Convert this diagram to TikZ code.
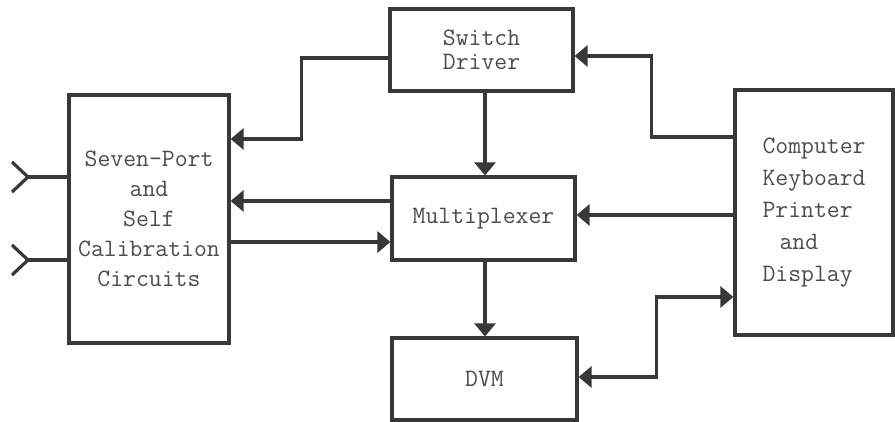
\documentclass[tikz,border=0pt]{standalone}
\usepackage{fontspec}
\usetikzlibrary{arrows.meta}

\definecolor{ink}{HTML}{383838}

\tikzset{
  block/.style={draw=ink, line width=1.6pt, inner sep=0pt, align=center,
    text=ink!90, font=\ttfamily\fontsize{12.5}{15}\selectfont},
  wire/.style={draw=ink, line width=1.6pt},
  link/.style={wire, -{Triangle[length=6.5pt,width=10.5pt]}},
}

\begin{document}
\begin{tikzpicture}[x=0.5pt, y=-0.5pt]
    \useasboundingbox[fill=white] (0,0) rectangle (895,422);

    % Blocks
    \node[block, minimum width=80pt, minimum height=124pt] (seven) at (149,219)
        {Seven-Port\\and\\Self\\Calibration\\Circuits};
    \node[block, minimum width=91.5pt, minimum height=41pt,
        font=\ttfamily\fontsize{12.5}{12}\selectfont] (switch) at (481.5,50) {Switch\\Driver};
    \node[block, minimum width=91.5pt, minimum height=41.5pt] (mux) at (483.5,218.5) {Multiplexer};
    \node[block, minimum width=92.5pt, minimum height=41pt] (dvm) at (484.5,379) {DVM};
    \node[block, minimum width=79pt, minimum height=122.5pt, align=left,
        font=\ttfamily\fontsize{12.5}{16}\selectfont] (comp) at (814,212.5)
        {Computer\\Keyboard\\Printer\\\ \,and\\Display};

    % Input ports
    \foreach \y in {177,260} {
        \draw[wire] (seven.west |- 0,\y) -- (28,\y);
        \draw[wire] (12,{\y-15}) -- (28,\y) -- (12,{\y+15});
    }

    % Switch driver paths
    \draw[link] (switch.west |- 0,58) -- ++(-87,0) |- (seven.east |- 0,139);
    \draw[link] (comp.west |- 0,137) -- ++(-82,0) |- (switch.east |- 0,56);
    \draw[link] (switch.south -| 485,0) -- (mux.north -| 485,0);

    % Multiplexer paths
    \draw[link] (mux.west |- 0,201) -- (seven.east |- 0,201);
    \draw[link] (seven.east |- 0,242) -- (mux.west |- 0,242);
    \draw[link] (comp.west |- 0,215) -- (mux.east |- 0,215);
    \draw[link] (mux.south -| 485,0) -- (dvm.north -| 485,0);

    % DVM to computer
    \draw[link, {Triangle[length=6.5pt,width=10.5pt]}-{Triangle[length=6.5pt,width=10.5pt]}]
        (dvm.east |- 0,377) -- ++(78,0) |- (comp.west |- 0,297);
\end{tikzpicture}
\end{document}
